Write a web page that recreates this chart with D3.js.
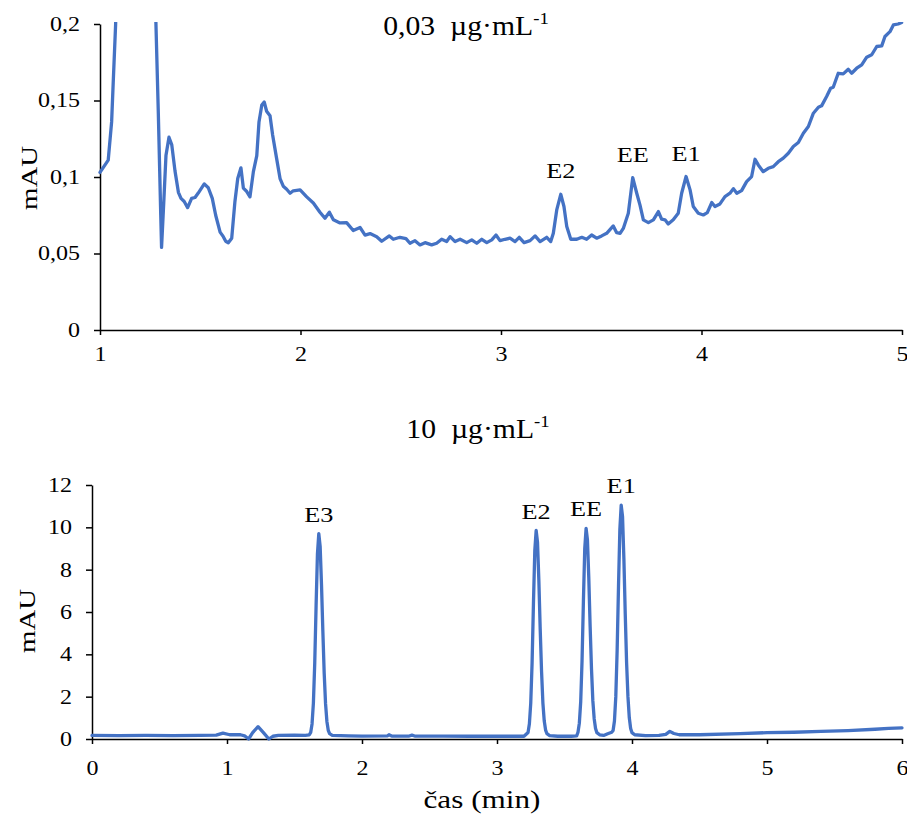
<!DOCTYPE html>
<html>
<head>
<meta charset="utf-8">
<script src="https://cdn.jsdelivr.net/npm/d3@7"></script>
<style>
  body { margin: 0; background: #fff; }
  text { font-family: "Liberation Serif", "Times New Roman", serif; fill: #000; }
  .trace { fill: none; stroke: #4472C4; stroke-width: 3.3; stroke-linejoin: round; stroke-linecap: round; }
  .axis path, .axis line { stroke: #000; stroke-width: 1.5; }
</style>
</head>
<body>
<div id="chart"></div>
<script>
// 0,03 ug/mL run (time in min, signal in mAU)
let lowTime = [1.000, 1.041, 1.058, 1.066, 1.078, 1.09, 1.12, 1.20, 1.26, 1.279, 1.291, 1.303, 1.307, 1.319, 1.329, 1.344, 1.358, 1.374, 1.391, 1.404,
  1.420, 1.437, 1.457, 1.474, 1.490, 1.520, 1.540, 1.560, 1.577, 1.599, 1.615, 1.627, 1.640, 1.657, 1.673, 1.687, 1.703, 1.715, 1.732, 1.748,
  1.765, 1.782, 1.793, 1.807, 1.819, 1.831, 1.848, 1.861, 1.881, 1.898, 1.914, 1.931, 1.948, 1.964, 1.998, 2.031, 2.064, 2.097, 2.122, 2.144,
  2.164, 2.197, 2.230, 2.263, 2.297, 2.322, 2.347, 2.380, 2.405, 2.443, 2.463, 2.496, 2.526, 2.546, 2.571, 2.596, 2.621, 2.654, 2.679, 2.704,
  2.729, 2.746, 2.771, 2.796, 2.829, 2.854, 2.879, 2.904, 2.929, 2.954, 2.975, 2.995, 3.020, 3.045, 3.070, 3.091, 3.115, 3.145, 3.170, 3.195,
  3.228, 3.248, 3.261, 3.278, 3.298, 3.314, 3.328, 3.348, 3.378, 3.403, 3.427, 3.452, 3.477, 3.502, 3.527, 3.560, 3.577, 3.594, 3.610, 3.635,
  3.657, 3.677, 3.693, 3.710, 3.735, 3.760, 3.785, 3.801, 3.818, 3.834, 3.859, 3.884, 3.901, 3.923, 3.943, 3.959, 3.984, 4.009, 4.029, 4.051,
  4.067, 4.092, 4.117, 4.142, 4.159, 4.176, 4.200, 4.225, 4.250, 4.267, 4.283, 4.308, 4.333, 4.358, 4.383, 4.408, 4.433, 4.458, 4.483, 4.508,
  4.533, 4.558, 4.583, 4.599, 4.624, 4.644, 4.657, 4.682, 4.707, 4.732, 4.749, 4.774, 4.799, 4.824, 4.849, 4.874, 4.899, 4.915, 4.940, 4.957,
  4.981, 4.998]
let lowSignal = [0.103, 0.111, 0.136, 0.162, 0.200, 0.35, 0.9, 0.8, 0.3, 0.200, 0.141, 0.075, 0.054, 0.086, 0.114, 0.126, 0.121, 0.104, 0.090, 0.086,
  0.084, 0.080, 0.086, 0.0866, 0.0895, 0.0955, 0.093, 0.086, 0.075, 0.064, 0.061, 0.058, 0.057, 0.060, 0.084, 0.099, 0.106, 0.0927, 0.0905, 0.087,
  0.1035, 0.114, 0.136, 0.147, 0.149, 0.143, 0.140, 0.1275, 0.112, 0.099, 0.094, 0.092, 0.0894, 0.091, 0.0916, 0.087, 0.083, 0.077, 0.073, 0.077,
  0.072, 0.070, 0.0702, 0.065, 0.067, 0.062, 0.063, 0.061, 0.058, 0.0615, 0.0593, 0.0606, 0.0597, 0.0567, 0.0584, 0.0556, 0.0571, 0.0556, 0.0567, 0.0593,
  0.0578, 0.061, 0.0578, 0.0593, 0.0571, 0.0589, 0.0567, 0.0593, 0.0571, 0.0589, 0.0621, 0.0584, 0.0593, 0.060, 0.0578, 0.0606, 0.0571, 0.0584, 0.0615, 0.0578,
  0.0606, 0.0578, 0.0632, 0.0785, 0.0887, 0.0807, 0.0676, 0.0593, 0.0593, 0.0606, 0.0593, 0.0621, 0.060, 0.0615, 0.0632, 0.068, 0.0636, 0.0632, 0.0664, 0.0763,
  0.0996, 0.0894, 0.0818, 0.072, 0.0702, 0.072, 0.0774, 0.0724, 0.072, 0.0693, 0.072, 0.0763, 0.0894, 0.1003, 0.0916, 0.0807, 0.0763, 0.0752, 0.0767, 0.0833,
  0.0807, 0.0824, 0.0872, 0.0894, 0.0924, 0.0894, 0.0911, 0.097, 0.1003, 0.1116, 0.1079, 0.1035, 0.1057, 0.1068, 0.110, 0.1123, 0.1155, 0.1199, 0.1225, 0.1286,
  0.133, 0.1417, 0.1456, 0.1465, 0.1526, 0.158, 0.1587, 0.1678, 0.1674, 0.1704, 0.1678, 0.1711, 0.1733, 0.1783, 0.1799, 0.1853, 0.1857, 0.1918, 0.195, 0.1994,
  0.200, 0.201]

// 10 ug/mL run
let highTime = [0.00, 0.20, 0.40, 0.60, 0.80, 0.92, 0.97, 1.02, 1.10, 1.13, 1.16, 1.19, 1.23, 1.27, 1.31, 1.34, 1.38, 1.50, 1.58, 1.61,
  1.62, 1.63, 1.64, 1.65, 1.66, 1.67, 1.68, 1.69, 1.70, 1.71, 1.72, 1.73, 1.74, 1.75, 1.76, 1.78, 1.90, 2.00, 2.19, 2.20,
  2.22, 2.35, 2.37, 2.39, 2.60, 2.80, 3.00, 3.20, 3.23, 3.24, 3.25, 3.26, 3.27, 3.28, 3.29, 3.30, 3.31, 3.32, 3.33, 3.34,
  3.35, 3.36, 3.37, 3.39, 3.45, 3.55, 3.59, 3.60, 3.61, 3.62, 3.63, 3.64, 3.65, 3.66, 3.67, 3.68, 3.69, 3.70, 3.71, 3.72,
  3.73, 3.74, 3.76, 3.79, 3.82, 3.85, 3.86, 3.87, 3.88, 3.89, 3.90, 3.91, 3.92, 3.93, 3.94, 3.95, 3.96, 3.97, 3.98, 3.99,
  4.00, 4.02, 4.10, 4.20, 4.25, 4.28, 4.31, 4.35, 4.50, 4.80, 5.00, 5.20, 5.40, 5.60, 5.80, 5.90, 6.00]
let highSignal = [0.17, 0.16, 0.17, 0.16, 0.17, 0.18, 0.28, 0.20, 0.20, 0.15, 0.00, 0.30, 0.58, 0.30, 0.00, 0.13, 0.17, 0.18, 0.17, 0.20,
  0.31, 0.71, 1.7, 3.6, 6.3, 8.75, 9.7, 9.1, 7.3, 5.1, 3.1, 1.67, 0.83, 0.41, 0.25, 0.17, 0.15, 0.14, 0.15, 0.20,
  0.14, 0.14, 0.18, 0.14, 0.14, 0.13, 0.13, 0.13, 0.31, 0.72, 1.7, 3.6, 6.4, 8.9, 9.85, 9.3, 7.5, 5.2, 3.2, 1.7,
  0.85, 0.42, 0.25, 0.16, 0.13, 0.13, 0.15, 0.32, 0.75, 1.75, 3.7, 6.5, 9.0, 9.95, 9.4, 7.6, 5.3, 3.3, 1.8, 0.95,
  0.50, 0.30, 0.20, 0.17, 0.25, 0.32, 0.40, 0.85, 2.0, 4.2, 7.2, 9.9, 11.05, 10.5, 8.5, 5.9, 3.6, 2.0, 1.0, 0.5,
  0.30, 0.20, 0.16, 0.17, 0.22, 0.36, 0.26, 0.20, 0.20, 0.25, 0.30, 0.32, 0.36, 0.40, 0.46, 0.50, 0.53]

let lowYTicks = [0, 0.05, 0.1, 0.15, 0.2]
let lowXTicks = [1, 2, 3, 4, 5]
let highYTicks = [0, 2, 4, 6, 8, 10, 12]
let highXTicks = [0, 1, 2, 3, 4, 5, 6]

let lowPeaks = [{name: 'E2', t: 3.298, v: 0.0887}, {name: 'EE', t: 3.657, v: 0.0996}, {name: 'E1', t: 3.923, v: 0.1003}]
let highPeaks = [{name: 'E3', t: 1.68, v: 9.7}, {name: 'E2', t: 3.29, v: 9.85}, {name: 'EE', t: 3.66, v: 9.95}, {name: 'E1', t: 3.92, v: 11.05}]

svg = d3.select('#chart').append('svg')
  .attr('width', 907)
  .attr('height', 816)

// widen glyphs a bit, the original picture is stretched sideways
function stretch(sel, k) {
  sel.each(function () {
    let len = this.getComputedTextLength()
    d3.select(this).attr('textLength', len * k).attr('lengthAdjust', 'spacingAndGlyphs')
  })
}

function comma(d) { return String(d).replace('.', ',') }

// ---------- top panel ----------
x1 = d3.scaleLinear().domain([1, 5]).range([100, 902])
y1 = d3.scaleLinear().domain([0, 0.2]).range([330, 24])

svg.append('defs').append('clipPath').attr('id', 'clipTop')
  .append('rect').attr('x', 98).attr('y', 22).attr('width', 808).attr('height', 310)

svg.append('g').attr('class', 'axis')
  .attr('transform', 'translate(0,330)')
  .call(d3.axisBottom(x1).tickValues(lowXTicks).tickFormat(comma).tickSize(5).tickSizeOuter(0).tickPadding(12))
  .attr('font-size', 20).attr('font-family', null)

svg.append('g').attr('class', 'axis')
  .attr('transform', 'translate(100,0)')
  .call(d3.axisLeft(y1).tickValues(lowYTicks).tickFormat(comma).tickSize(6).tickSizeOuter(0).tickPadding(14))
  .attr('font-size', 20).attr('font-family', null)

lowLine = d3.line().x((d, i) => x1(lowTime[i])).y(d => y1(d))
svg.append('path')
  .attr('class', 'trace')
  .attr('clip-path', 'url(#clipTop)')
  .attr('d', lowLine(lowSignal))

svg.selectAll('.lowPeak')
  .data(lowPeaks)
  .join('text')
    .attr('class', 'lowPeak')
    .attr('x', d => x1(d.t))
    .attr('y', d => y1(d.v) - 16)
    .attr('text-anchor', 'middle')
    .attr('font-size', 21)
    .text(d => d.name)

topTitle = svg.append('text')
  .attr('class', 'title')
  .attr('x', 466).attr('y', 35)
  .attr('text-anchor', 'middle')
  .attr('font-size', 27)
topTitle.append('tspan').text('0,03\u00a0 µg·mL')
topTitle.append('tspan').attr('font-size', 17).attr('dy', -11).text('-1')

svg.append('text')
  .attr('class', 'ylab')
  .attr('transform', 'translate(37,178) rotate(-90)')
  .attr('text-anchor', 'middle')
  .attr('font-size', 24)
  .text('mAU')

// ---------- bottom panel ----------
x2 = d3.scaleLinear().domain([0, 6]).range([92, 902])
y2 = d3.scaleLinear().domain([0, 12]).range([739, 485])

svg.append('g').attr('class', 'axis')
  .attr('transform', 'translate(0,739)')
  .call(d3.axisBottom(x2).tickValues(highXTicks).tickFormat(comma).tickSize(5).tickSizeOuter(0).tickPadding(17))
  .attr('font-size', 20).attr('font-family', null)

svg.append('g').attr('class', 'axis')
  .attr('transform', 'translate(92,0)')
  .call(d3.axisLeft(y2).tickValues(highYTicks).tickSize(6).tickSizeOuter(0).tickPadding(14))
  .attr('font-size', 20).attr('font-family', null)

highLine = d3.line().x((d, i) => x2(highTime[i])).y(d => y2(d))
svg.append('path')
  .attr('class', 'trace')
  .attr('d', highLine(highSignal))

svg.selectAll('.highPeak')
  .data(highPeaks)
  .join('text')
    .attr('class', 'highPeak')
    .attr('x', d => x2(d.t))
    .attr('y', d => y2(d.v) - 12)
    .attr('text-anchor', 'middle')
    .attr('font-size', 21)
    .text(d => d.name)

bottomTitle = svg.append('text')
  .attr('class', 'title')
  .attr('x', 478).attr('y', 438)
  .attr('text-anchor', 'middle')
  .attr('font-size', 27)
bottomTitle.append('tspan').text('10\u00a0 µg·mL')
bottomTitle.append('tspan').attr('font-size', 17).attr('dy', -11).text('-1')

svg.append('text')
  .attr('class', 'ylab')
  .attr('transform', 'translate(35,621) rotate(-90)')
  .attr('text-anchor', 'middle')
  .attr('font-size', 24)
  .text('mAU')

svg.append('text')
  .attr('class', 'xlab')
  .attr('x', 482).attr('y', 808)
  .attr('text-anchor', 'middle')
  .attr('font-size', 26)
  .text('čas (min)')

stretch(svg.selectAll('.axis text, .ylab, .xlab'), 1.2)
stretch(svg.selectAll('.lowPeak, .highPeak'), 1.25)
stretch(svg.selectAll('.title'), 1.1)
</script>
</body>
</html>
